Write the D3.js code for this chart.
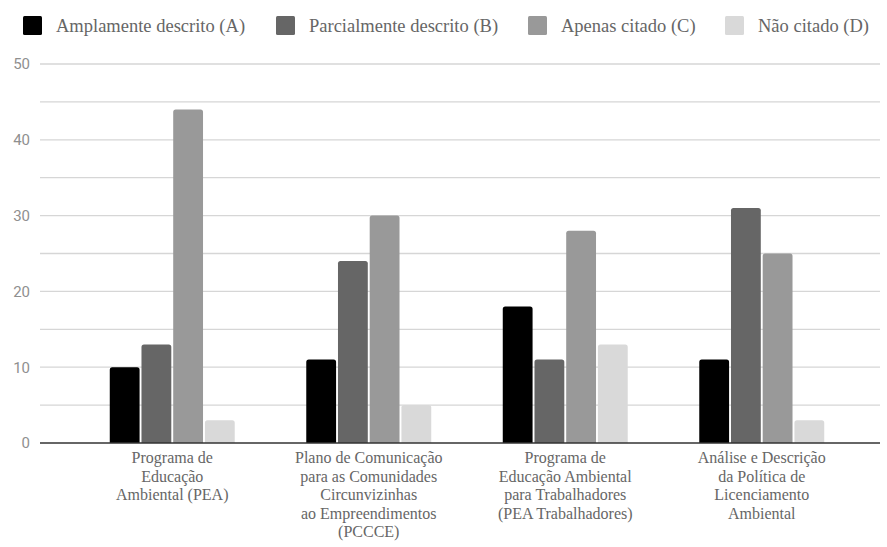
<!DOCTYPE html>
<html>
<head>
<meta charset="utf-8">
<script src="https://cdn.jsdelivr.net/npm/d3@7"></script>
<style>
  html, body { margin: 0; padding: 0; background: #fff; }
  svg { display: block; }
  .serif { font-family: "Liberation Serif", "Times New Roman", Times, "DejaVu Serif", serif; }
  .sans { font-family: Roboto, "Noto Sans", sans-serif; }
</style>
</head>
<body>
<svg id="chart" width="887" height="547"></svg>
<script>
// Categories (each label split into its wrapped lines)
const categories = [
  ["Programa de", "Educação", "Ambiental (PEA)"],
  ["Plano de Comunicação", "para as Comunidades", "Circunvizinhas", "ao Empreendimentos", "(PCCCE)"],
  ["Programa de", "Educação Ambiental", "para Trabalhadores", "(PEA Trabalhadores)"],
  ["Análise e Descrição", "da Política de", "Licenciamento", "Ambiental"]
];
const seriesNames = ["Amplamente descrito (A)", "Parcialmente descrito (B)", "Apenas citado (C)", "Não citado (D)"];
const seriesA = [10, 11, 18, 11];
const seriesB = [13, 24, 11, 31];
const seriesC = [44, 30, 28, 25];
const seriesD = [3, 5, 13, 3];
const yTicks = [0, 10, 20, 30, 40, 50];
const gridValues = [5, 10, 15, 20, 25, 30, 35, 40, 45, 50];
const colors = ["#000000", "#666666", "#999999", "#d9d9d9"];

const series = [seriesA, seriesB, seriesC, seriesD];
const svg = d3.select("#chart");

const plotLeft = 40, plotRight = 880, plotTop = 64, plotBottom = 443;

const y = d3.scaleLinear().domain([0, 50]).range([plotBottom, plotTop]);
const x0 = d3.scaleBand().domain(d3.range(categories.length))
  .range([74, 860]).paddingInner(0.364).paddingOuter(0.182);
const x1 = d3.scaleBand().domain(d3.range(series.length))
  .range([0, x0.bandwidth()]).paddingInner(0.06);

// Gridlines
svg.append("g")
  .selectAll("line")
  .data(gridValues)
  .join("line")
  .attr("x1", plotLeft).attr("x2", plotRight)
  .attr("y1", d => y(d)).attr("y2", d => y(d))
  .attr("stroke", "#d6d6d6").attr("stroke-width", 1.3);

// Y axis labels
const yAxis = d3.axisLeft(y).tickValues(yTicks).tickSize(0).tickPadding(10);
const yg = svg.append("g").attr("transform", `translate(${plotLeft},0)`).call(yAxis);
yg.select(".domain").remove();
yg.attr("font-family", null).attr("font-size", null);
yg.selectAll("text")
  .attr("class", "sans")
  .style("font-size", "15px")
  .attr("fill", "#8f8f8f");

// Bars with slightly rounded top corners
function barPath(x, y0, w, h, r) {
  r = Math.min(r, h, w / 2);
  return `M${x},${y0 + h}V${y0 + r}Q${x},${y0} ${x + r},${y0}H${x + w - r}Q${x + w},${y0} ${x + w},${y0 + r}V${y0 + h}Z`;
}

const groups = svg.append("g")
  .selectAll("g")
  .data(categories.map((c, i) => i))
  .join("g")
  .attr("transform", i => `translate(${x0(i)},0)`);

groups.selectAll("path")
  .data(i => series.map((s, k) => ({ k, v: s[i] })))
  .join("path")
  .attr("d", d => barPath(x1(d.k), y(d.v), x1.bandwidth(), y(0) - y(d.v), 2.5))
  .attr("fill", d => colors[d.k]);

// Baseline
svg.append("line")
  .attr("x1", plotLeft).attr("x2", plotRight)
  .attr("y1", y(0)).attr("y2", y(0))
  .attr("stroke", "#333").attr("stroke-width", 1.5);

// Category labels
const catLabels = svg.append("g")
  .selectAll("text")
  .data(categories)
  .join("text")
  .attr("class", "serif")
  .attr("text-anchor", "middle")
  .style("font-size", "16px")
  .attr("fill", "#666");
catLabels.each(function(lines, i) {
  const t = d3.select(this);
  lines.forEach((ln, j) => {
    t.append("tspan")
      .attr("x", x0(i) + x0.bandwidth() / 2)
      .attr("y", 463 + j * 18.5)
      .text(ln);
  });
});

// Legend
const legendX = [23, 276, 528, 725];
const legend = svg.append("g")
  .selectAll("g")
  .data(seriesNames)
  .join("g")
  .attr("transform", (d, i) => `translate(${legendX[i]},16)`);
legend.append("rect")
  .attr("width", 19).attr("height", 19).attr("rx", 1.5)
  .attr("fill", (d, i) => colors[i]);
legend.append("text")
  .attr("class", "serif")
  .attr("x", 33).attr("y", 15.5)
  .style("font-size", "18.5px")
  .attr("fill", "#666")
  .text(d => d);
</script>
</body>
</html>
